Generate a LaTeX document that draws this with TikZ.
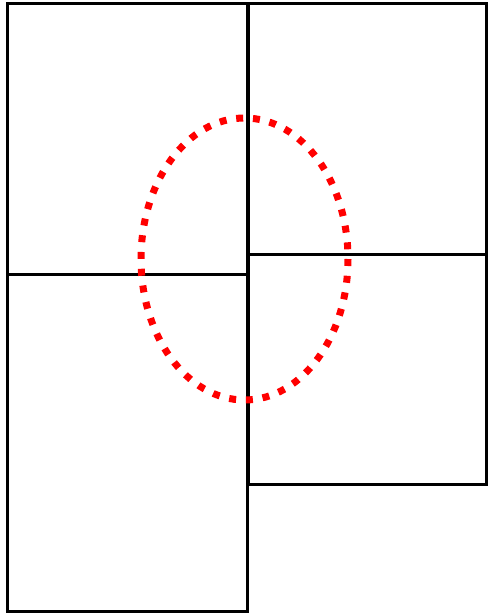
\documentclass[tikz,border=0pt]{standalone}
\begin{document}
\begin{tikzpicture}[x=1pt,y=-1pt,
  wall/.style={draw=black,line width=3pt,line cap=rect},
  ring/.style={draw=red,line width=7pt,dash pattern=on 7pt off 9.8pt}]
\useasboundingbox (0,0) rectangle (488,614);
\draw[wall] (7.8,3.3) rectangle (247.2,274.5);
\draw[wall] (7.8,274.5) rectangle (247.2,611.5);
\draw[wall] (248.2,3.3) rectangle (486.8,254.7);
\draw[wall] (248.2,254.7) rectangle (486.8,484.8);
\draw[ring] (244.5,259) ellipse [x radius=103.5, y radius=141];
\end{tikzpicture}
\end{document}
